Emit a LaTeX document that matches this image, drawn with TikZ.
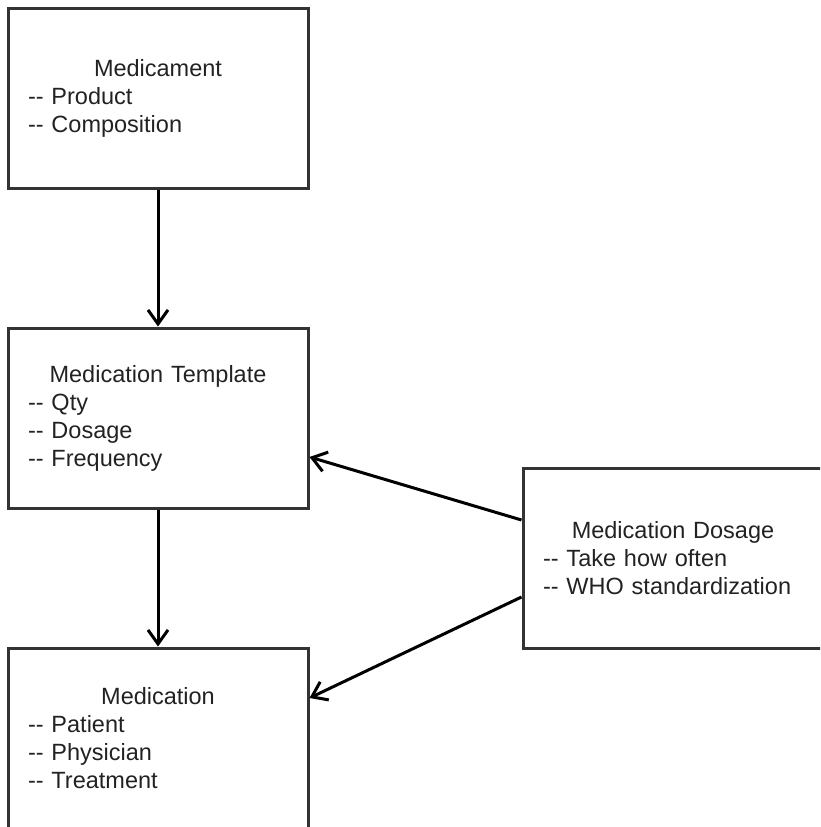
\documentclass[tikz,border=0pt]{standalone}
\usepackage{fontspec}
\setmainfont{Liberation Sans}
\usetikzlibrary{arrows.meta}
\definecolor{boxgray}{HTML}{333333}
\definecolor{textgray}{HTML}{222222}

\begin{document}
\begin{tikzpicture}[x=1pt,y=-1pt,
    entity/.style={draw=boxgray, line width=3pt, text=textgray,
      minimum width=300pt, minimum height=180pt, inner xsep=20pt,
      text width=260pt, align=left,
      font=\fontsize{23.5}{28}\selectfont},
    link/.style={line width=3pt, -{Straight Barb[length=14pt,width=20pt,line width=3pt]}}]
    %Frame
    \useasboundingbox (0,0) rectangle (820,827);
    \clip (0,0) rectangle (820,827);

    %Boxes
    \node[entity] (medicament) at (158,98)
    {\makebox[\linewidth]{Medicament}\\ -{}- Product\\ -{}- Composition};
    \node[entity] (template) at (158,418)
    {\makebox[\linewidth]{Medication Template}\\ -{}- Qty\\ -{}- Dosage\\ -{}- Frequency};
    \node[entity] (medication) at (158,738)
    {\makebox[\linewidth]{Medication}\\ -{}- Patient\\ -{}- Physician\\ -{}- Treatment};
    \node[entity] (dosage) at (673,558)
    {\makebox[\linewidth]{Medication Dosage}\\ -{}- Take how often\\ -{}- WHO standardization};

    %Links
    \draw[link] (medicament) -- (template);
    \draw[link] (template) -- (medication);
    \draw[link] ([yshift=38pt]dosage.west) -- ([yshift=-39pt]template.east);
    \draw[link] ([yshift=-39pt]dosage.west) -- ([yshift=40pt]medication.east);
  \end{tikzpicture}
\end{document}
